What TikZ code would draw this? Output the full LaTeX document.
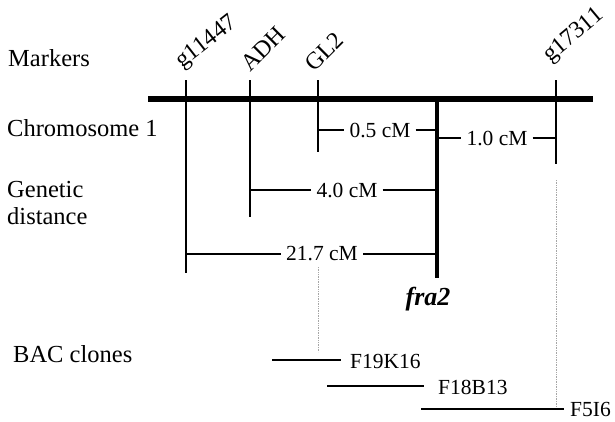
\documentclass[tikz,border=0pt]{standalone}
\usepackage{fontspec}
\setmainfont{Liberation Serif}
\begin{document}
\begin{tikzpicture}[x=1pt,y=-1pt,
  lbl/.style={font=\fontsize{24.5}{27}\selectfont, inner sep=0pt},
  bac/.style={font=\fontsize{21.5}{26}\selectfont, inner sep=0pt, anchor=west},
  dist/.style={font=\fontsize{21.5}{25}\selectfont, inner xsep=5pt, inner ysep=0pt},
  mk/.style={font=\fontsize{24}{27}\selectfont, inner sep=0pt, anchor=base west},
  tickln/.style={line width=2.2pt},
  distln/.style={line width=2.2pt},
  bacln/.style={line width=2.5pt},
  dotln/.style={gray!70, line width=0.7pt, densely dotted}]
\useasboundingbox (0,0) rectangle (615,421);
% left labels
\node[lbl, anchor=base west] (lm) at (8,66) {Markers};
\node[lbl, anchor=base west] (lc) at (7,136) {Chromosome 1};
\node[lbl, anchor=north west, align=left] (lg) at (7,181) {Genetic\\distance};
\node[lbl, anchor=base west] (lb) at (13,362) {BAC clones};
% chromosome
\coordinate (cL) at (148,99); \coordinate (cR) at (593,99);
\draw[line width=5.5pt] (cL) -- (cR);
% marker ticks
\coordinate (gT) at (186,80);  \coordinate (gB) at (186,273);
\coordinate (aT) at (250,80);  \coordinate (aB) at (250,217);
\coordinate (lT) at (318,80);  \coordinate (lB) at (318,152);
\coordinate (fT) at (437,99);  \coordinate (fB) at (437,278);
\coordinate (sT) at (556,80);  \coordinate (sB) at (556,164);
\draw[tickln] (gT) -- (gB);
\draw[tickln] (aT) -- (aB);
\draw[tickln] (lT) -- (lB);
\draw[line width=3.5pt] (fT) -- (fB);
\draw[tickln] (sT) -- (sB);
% marker labels
\node[mk, rotate=38] (mg) at (182,69) {g11447};
\node[mk, rotate=45] (ma) at (250,73) {ADH};
\node[mk, rotate=45] (ml) at (314,73) {GL2};
\node[mk, rotate=40] (ms) at (550,63) {g17311};
% distances
\node[dist] (d05) at (380,130) {0.5 cM};
\draw[distln] (lB |- d05) -- (d05.west);
\draw[distln] (d05.east) -- (fB |- d05);
\node[dist] (d10) at (497,138) {1.0 cM};
\draw[distln] (fB |- d10) -- (d10.west);
\draw[distln] (d10.east) -- (sB |- d10);
\node[dist] (d40) at (347,190) {4.0 cM};
\draw[distln] (aB |- d40) -- (d40.west);
\draw[distln] (d40.east) -- (fB |- d40);
\node[dist] (d21) at (322,254) {21.7 cM};
\draw[distln] (gB |- d21) -- (d21.west);
\draw[distln] (d21.east) -- (fB |- d21);
% fra2
\node[inner sep=0pt, font=\fontsize{26}{30}\selectfont\bfseries\itshape] (fra) at (428,299) {fra2};
% BAC clones
\node[bac] (F19) at (350,361) {F19K16};
\coordinate (b1a) at (272,360); \coordinate (b1b) at (341,360);
\draw[bacln] (b1a) -- (b1b);
\node[bac] (F18) at (438,387) {F18B13};
\coordinate (b2a) at (327,386); \coordinate (b2b) at (424,386);
\draw[bacln] (b2a) -- (b2b);
\node[bac] (F5) at (570,409) {F5I6};
\coordinate (b3a) at (421,409); \coordinate (b3b) at (564,409);
\draw[bacln] (b3a) -- (b3b);
% dotted guides
\coordinate (v1a) at (318,267); \coordinate (v1b) at (318,352);
\draw[dotln] (v1a) -- (v1b);
\coordinate (v2a) at (556,180); \coordinate (v2b) at (556,407);
\draw[dotln] (v2a) -- (v2b);
\end{tikzpicture}
\end{document}
